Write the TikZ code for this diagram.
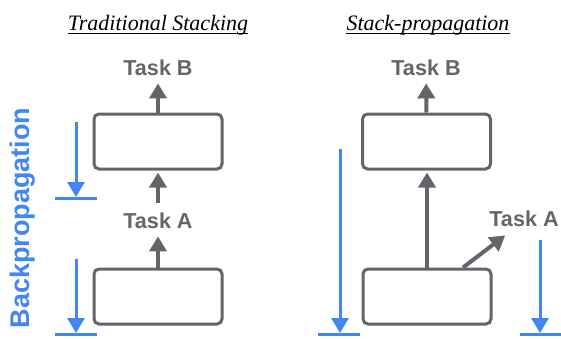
\documentclass[tikz,border=0pt]{standalone}
\usepackage{fontspec}
\setmainfont{Liberation Sans}
\newfontfamily\titlefont{Liberation Serif}
\usetikzlibrary{arrows.meta,calc}
\definecolor{gr}{RGB}{100,100,106}
\definecolor{bl}{RGB}{66,133,244}
\tikzset{
 box/.style={draw=gr, line width=3pt, rounded corners=5pt, minimum width=128pt, minimum height=55pt, inner sep=0pt},
 task/.style={text=gr, font=\fontsize{21.6}{24}\selectfont\bfseries, inner sep=0pt, anchor=base},
 garrow/.style={draw=gr, line width=4pt, -{Triangle[length=15pt,width=17pt]}},
 barrow/.style={draw=bl, line width=3pt, -{Triangle[length=15pt,width=17pt]}},
 bar/.style={draw=bl, line width=3pt},
 ttl/.style={font=\titlefont\itshape\fontsize{22}{24}\selectfont, inner sep=0pt, anchor=base},
 uline/.style={draw=black, line width=0.9pt},
}
\begin{document}
\begin{tikzpicture}[x=1pt,y=-1pt]
\useasboundingbox (0,0) rectangle (561,338);
% titles
\node[ttl] (ti1) at (158,30) {Traditional Stacking};
\node[ttl] (ti2) at (428,30) {Stack-propagation};
\draw[uline] ($(ti1.base west)+(0,3)$) -- ($(ti1.base east)+(0,3)$);
\draw[uline] ($(ti2.base west)+(0,3)$) -- ($(ti2.base east)+(0,3)$);
% backpropagation label
\node[text=bl, font=\fontsize{27}{28}\selectfont\bfseries, inner sep=0pt, anchor=base, rotate=90] (bp) at (29.5,218) {Backpropagation};
% left panel
\node[box] (t1) at (158,141.5) {};
\node[box] (b1) at (158,296.5) {};
\node[task] (B1) at (158,75) {Task B};
\node[task] (A1) at (158,228) {Task A};
\draw[garrow, shorten >=8pt] (t1.north) -- (B1.south);
\draw[garrow, shorten <=9pt, shorten >=2pt] (A1.north) -- (t1.south);
\draw[garrow, shorten >=8pt] (b1.north) -- (A1.south);
% right panel
\node[box] (t2) at (426.5,141.5) {};
\node[box] (b2) at (427,296.5) {};
\node[task] (B2) at (426,75) {Task B};
\node[task] (A2) at (524,226) {Task A};
\draw[garrow, shorten >=8pt] (t2.north) -- (B2.south);
\draw[garrow, shorten >=2pt] (b2.north) -- (b2.north |- t2.south);
\coordinate (d1) at ($(b2.north)+(36,0)$);
\coordinate (d2) at ($(A2.south west)+(16,9)$);
\draw[garrow] (d1) -- (d2);
% blue arrows
\coordinate (p1s) at (76,122);
\coordinate (p1e) at (76,197);
\coordinate (q1a) at (55,198);
\coordinate (q1b) at (97,198);
\coordinate (p2s) at (76,259);
\coordinate (p2e) at (76,333);
\coordinate (q2a) at (55,334);
\coordinate (q2b) at (97,334);
\coordinate (p3s) at (340,149);
\coordinate (p3e) at (340,333);
\coordinate (q3a) at (318,334);
\coordinate (q3b) at (360,334);
\coordinate (p4s) at (540,240);
\coordinate (p4e) at (540,333);
\coordinate (q4a) at (520,334);
\coordinate (q4b) at (561,334);
\draw[barrow] (p1s) -- (p1e);
\draw[bar] (q1a) -- (q1b);
\draw[barrow] (p2s) -- (p2e);
\draw[bar] (q2a) -- (q2b);
\draw[barrow] (p3s) -- (p3e);
\draw[bar] (q3a) -- (q3b);
\draw[barrow] (p4s) -- (p4e);
\draw[bar] (q4a) -- (q4b);
\end{tikzpicture}
\end{document}
